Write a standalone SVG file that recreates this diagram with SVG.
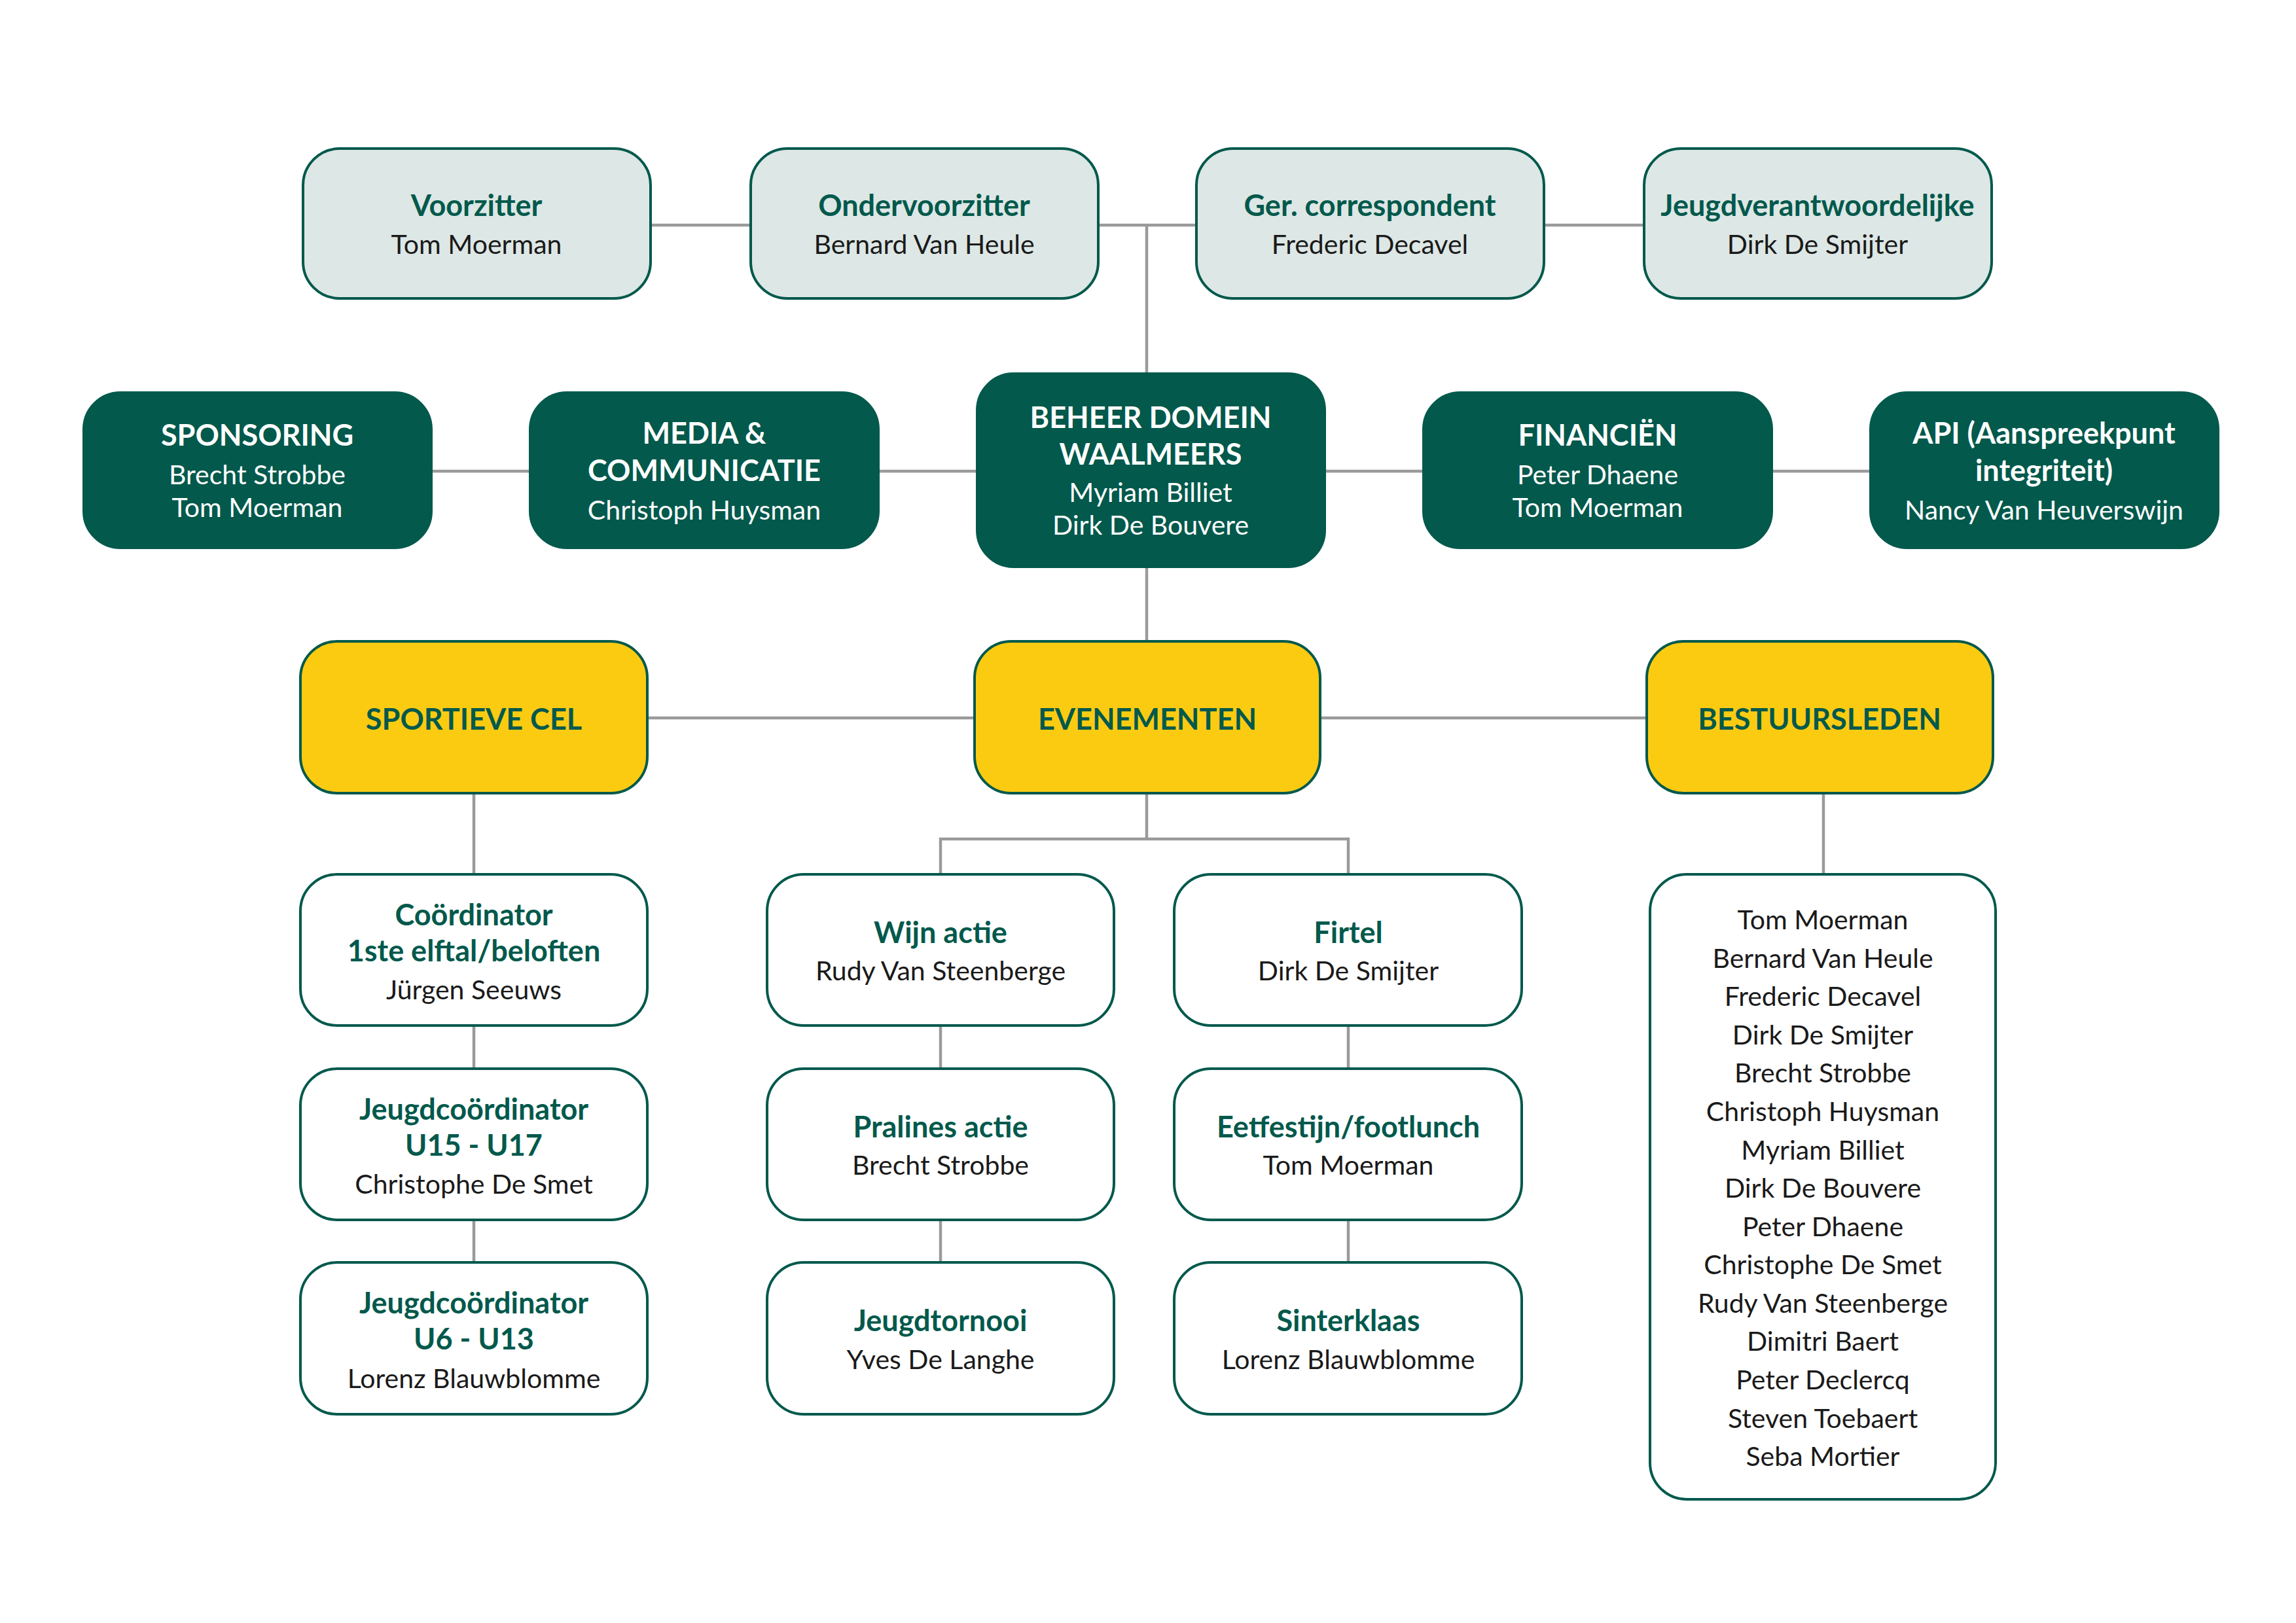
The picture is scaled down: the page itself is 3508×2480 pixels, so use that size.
<svg xmlns="http://www.w3.org/2000/svg" width="3508" height="2480" viewBox="0 0 3508 2480">
<style>
text{font-family:Lato,"Noto Sans",sans-serif;text-anchor:middle}
.l{fill:#DDE7E5;stroke:#02594C;stroke-width:4}
.d{fill:#02594C;stroke:#02594C;stroke-width:4}
.y{fill:#FBCB12;stroke:#02594C;stroke-width:4}
.w{fill:#fff;stroke:#02594C;stroke-width:4}
.t{font-weight:bold;font-size:45px;fill:#02594C}
.n{font-size:41px;fill:#1a1a1a}
.tw{font-weight:bold;font-size:45px;fill:#fff}
.nw{font-size:41px;fill:#fff}
.c line,.c polyline{stroke:#9a9a9a;stroke-width:4.5;fill:none}
</style>
<rect width="3508" height="2480" fill="#fff"/>
<g class="c">
<line x1="994" y1="344" x2="1147" y2="344"/>
<line x1="1678" y1="344" x2="1828" y2="344"/>
<line x1="2359" y1="344" x2="2512" y2="344"/>
<line x1="1752" y1="344" x2="1752" y2="571"/>
<line x1="659" y1="720" x2="810" y2="720"/>
<line x1="1342" y1="720" x2="1493" y2="720"/>
<line x1="2024" y1="720" x2="2175" y2="720"/>
<line x1="2707" y1="720" x2="2858" y2="720"/>
<line x1="1752" y1="866" x2="1752" y2="980"/>
<line x1="989" y1="1097" x2="1489" y2="1097"/>
<line x1="2017" y1="1097" x2="2516" y2="1097"/>
<line x1="724" y1="1212" x2="724" y2="1336"/>
<line x1="724" y1="1567" x2="724" y2="1633"/>
<line x1="724" y1="1864" x2="724" y2="1929"/>
<line x1="1752" y1="1212" x2="1752" y2="1282"/>
<polyline points="1437,1336 1437,1282 2060,1282 2060,1336"/>
<line x1="1437" y1="1567" x2="1437" y2="1633"/>
<line x1="1437" y1="1864" x2="1437" y2="1929"/>
<line x1="2060" y1="1567" x2="2060" y2="1633"/>
<line x1="2060" y1="1864" x2="2060" y2="1929"/>
<line x1="2786" y1="1212" x2="2786" y2="1336"/>
</g>
<g id="voorzitter"><rect class="l" x="463" y="227" width="531" height="229" rx="56"/><text class="t" x="728" y="330">Voorzitter</text><text class="n" x="728" y="388">Tom Moerman</text></g>
<g id="ondervoorzitter"><rect class="l" x="1147" y="227" width="531" height="229" rx="56"/><text class="t" x="1412" y="330">Ondervoorzitter</text><text class="n" x="1412" y="388">Bernard Van Heule</text></g>
<g id="correspondent"><rect class="l" x="1828" y="227" width="531" height="229" rx="56"/><text class="t" x="2093" y="330">Ger. correspondent</text><text class="n" x="2093" y="388">Frederic Decavel</text></g>
<g id="jeugdverantwoordelijke"><rect class="l" x="2512" y="227" width="531" height="229" rx="56"/><text class="t" x="2777" y="330">Jeugdverantwoordelijke</text><text class="n" x="2777" y="388">Dirk De Smijter</text></g>
<g id="sponsoring"><rect class="d" x="128" y="600" width="531" height="237" rx="56"/><text class="tw" x="393" y="681">SPONSORING</text><text class="nw" x="393" y="740">Brecht Strobbe</text><text class="nw" x="393" y="790">Tom Moerman</text></g>
<g id="media"><rect class="d" x="810" y="600" width="532" height="237" rx="56"/><text class="tw" x="1076" y="678">MEDIA &amp;</text><text class="tw" x="1076" y="735">COMMUNICATIE</text><text class="nw" x="1076" y="794">Christoph Huysman</text></g>
<g id="beheer"><rect class="d" x="1493" y="571" width="531" height="295" rx="56"/><text class="tw" x="1758" y="654">BEHEER DOMEIN</text><text class="tw" x="1758" y="710">WAALMEERS</text><text class="nw" x="1758" y="767">Myriam Billiet</text><text class="nw" x="1758" y="817">Dirk De Bouvere</text></g>
<g id="financien"><rect class="d" x="2175" y="600" width="532" height="237" rx="56"/><text class="tw" x="2441" y="681">FINANCIËN</text><text class="nw" x="2441" y="740">Peter Dhaene</text><text class="nw" x="2441" y="790">Tom Moerman</text></g>
<g id="api"><rect class="d" x="2858" y="600" width="531" height="237" rx="56"/><text class="tw" x="3123" y="678">API (Aanspreekpunt</text><text class="tw" x="3123" y="735">integriteit)</text><text class="nw" x="3123" y="794">Nancy Van Heuverswijn</text></g>
<g id="sportieve"><rect class="y" x="459" y="980" width="530" height="232" rx="56"/><text class="t" x="724" y="1115">SPORTIEVE CEL</text></g>
<g id="evenementen"><rect class="y" x="1489" y="980" width="528" height="232" rx="56"/><text class="t" x="1753" y="1115">EVENEMENTEN</text></g>
<g id="bestuursleden"><rect class="y" x="2516" y="980" width="529" height="232" rx="56"/><text class="t" x="2780" y="1115">BESTUURSLEDEN</text></g>
<g id="coordinator"><rect class="w" x="459" y="1336" width="530" height="231" rx="56"/><text class="t" x="724" y="1414">Coördinator</text><text class="t" x="724" y="1469">1ste elftal/beloften</text><text class="n" x="724" y="1527">Jürgen Seeuws</text></g>
<g id="jeugd1517"><rect class="w" x="459" y="1633" width="530" height="231" rx="56"/><text class="t" x="724" y="1711">Jeugdcoördinator</text><text class="t" x="724" y="1766">U15 - U17</text><text class="n" x="724" y="1824">Christophe De Smet</text></g>
<g id="jeugd613"><rect class="w" x="459" y="1929" width="530" height="232" rx="56"/><text class="t" x="724" y="2007">Jeugdcoördinator</text><text class="t" x="724" y="2062">U6 - U13</text><text class="n" x="724" y="2121">Lorenz Blauwblomme</text></g>
<g id="wijn"><rect class="w" x="1172" y="1336" width="530" height="231" rx="56"/><text class="t" x="1437" y="1441">Wijn actie</text><text class="n" x="1437" y="1498">Rudy Van Steenberge</text></g>
<g id="pralines"><rect class="w" x="1172" y="1633" width="530" height="231" rx="56"/><text class="t" x="1437" y="1738">Pralines actie</text><text class="n" x="1437" y="1795">Brecht Strobbe</text></g>
<g id="jeugdtornooi"><rect class="w" x="1172" y="1929" width="530" height="232" rx="56"/><text class="t" x="1437" y="2034">Jeugdtornooi</text><text class="n" x="1437" y="2092">Yves De Langhe</text></g>
<g id="firtel"><rect class="w" x="1794" y="1336" width="531" height="231" rx="56"/><text class="t" x="2060" y="1441">Firtel</text><text class="n" x="2060" y="1498">Dirk De Smijter</text></g>
<g id="eetfestijn"><rect class="w" x="1794" y="1633" width="531" height="231" rx="56"/><text class="t" x="2060" y="1738">Eetfestijn/footlunch</text><text class="n" x="2060" y="1795">Tom Moerman</text></g>
<g id="sinterklaas"><rect class="w" x="1794" y="1929" width="531" height="232" rx="56"/><text class="t" x="2060" y="2034">Sinterklaas</text><text class="n" x="2060" y="2092">Lorenz Blauwblomme</text></g>
<g id="ledenlijst"><rect class="w" x="2521" y="1336" width="528" height="955" rx="56"/>
<text class="n" x="2785" y="1420">Tom Moerman</text>
<text class="n" x="2785" y="1479">Bernard Van Heule</text>
<text class="n" x="2785" y="1537">Frederic Decavel</text>
<text class="n" x="2785" y="1596">Dirk De Smijter</text>
<text class="n" x="2785" y="1654">Brecht Strobbe</text>
<text class="n" x="2785" y="1713">Christoph Huysman</text>
<text class="n" x="2785" y="1772">Myriam Billiet</text>
<text class="n" x="2785" y="1830">Dirk De Bouvere</text>
<text class="n" x="2785" y="1889">Peter Dhaene</text>
<text class="n" x="2785" y="1947">Christophe De Smet</text>
<text class="n" x="2785" y="2006">Rudy Van Steenberge</text>
<text class="n" x="2785" y="2064">Dimitri Baert</text>
<text class="n" x="2785" y="2123">Peter Declercq</text>
<text class="n" x="2785" y="2182">Steven Toebaert</text>
<text class="n" x="2785" y="2240">Seba Mortier</text>
</g>
</svg>
